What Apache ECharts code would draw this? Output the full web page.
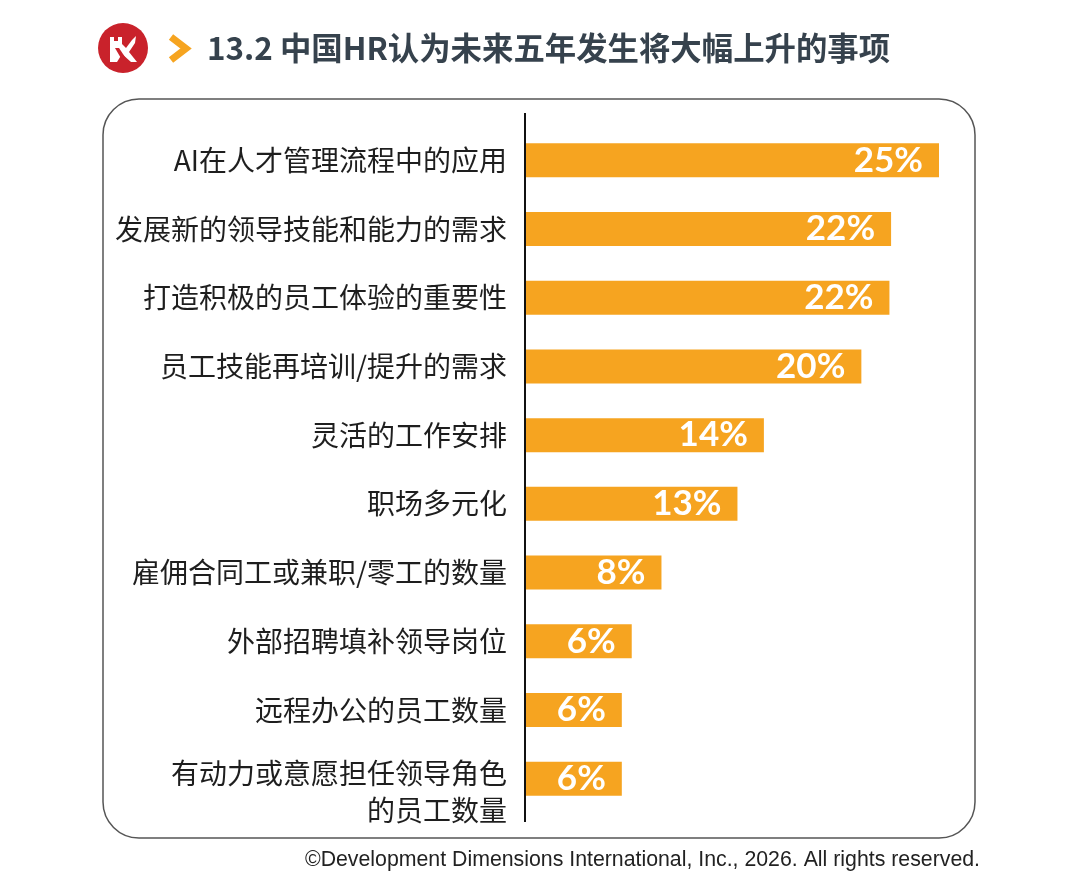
<!DOCTYPE html>
<html>
<head>
<meta charset="utf-8">
<script src="https://cdn.jsdelivr.net/npm/echarts@6/dist/echarts.min.js"></script>
<style>
  html, body { margin: 0; padding: 0; background: #fff; }
  #chart { width: 1080px; height: 895px; }
</style>
</head>
<body>
<div id="chart"></div>
<script>
// 数据
var titleText = '13.2 中国HR认为未来五年发生将大幅上升的事项';
var footText = '©Development Dimensions International, Inc., 2026. All rights reserved.';
var categories = [
  'AI在人才管理流程中的应用',
  '发展新的领导技能和能力的需求',
  '打造积极的员工体验的重要性',
  '员工技能再培训/提升的需求',
  '灵活的工作安排',
  '职场多元化',
  '雇佣合同工或兼职/零工的数量',
  '外部招聘填补领导岗位',
  '远程办公的员工数量',
  '有动力或意愿担任领导角色\n的员工数量'
];
// 条形长度
var values = [25.0, 22.1, 22.0, 20.3, 14.4, 12.8, 8.2, 6.4, 5.8, 5.8];

var chart = echarts.init(document.getElementById('chart'));

chart.setOption({
  backgroundColor: '#fff',
  animation: false,
  grid: { left: 526, top: 126, width: 413, height: 687, containLabel: false },
  xAxis: {
    type: 'value', min: 0, max: 25, show: false
  },
  yAxis: {
    type: 'category',
    inverse: true,
    data: categories,
    axisLine: { show: false },
    axisTick: { show: false },
    axisLabel: {
      interval: 0,
      hideOverlap: false,
      showMinLabel: true,
      showMaxLabel: true,
      margin: 19,
      color: '#1e1e1e',
      fontSize: 28,
      lineHeight: 37,
      fontFamily: 'Noto Sans CJK SC',
      align: 'right',
      // 两行标签:第一行对齐条形中心
      formatter: function (v) {
        var parts = v.split('\n');
        if (parts.length < 2) return v;
        return '{a|' + parts[0] + '}\n{b|' + parts[1] + '}';
      },
      rich: {
        a: { fontSize: 28, color: '#1e1e1e', fontFamily: 'Noto Sans CJK SC', lineHeight: 64, align: 'right' },
        b: { fontSize: 28, color: '#1e1e1e', fontFamily: 'Noto Sans CJK SC', lineHeight: 10, align: 'right' }
      }
    }
  },
  series: [{
    type: 'bar',
    data: values,
    barWidth: 34,
    itemStyle: { color: '#F6A420' },
    label: {
      show: true,
      position: 'insideRight',
      distance: 16,
      color: '#fff',
      fontFamily: 'Lato',
      fontWeight: 'bold',
      fontSize: 35,
      formatter: function (p) { return Math.round(p.value) + '%'; }
    }
  }],
  graphic: [
    { type: 'rect', shape: { x: 103, y: 99, width: 872, height: 739, r: 36 },
      style: { fill: 'none', stroke: '#555', lineWidth: 1.5 }, z: -1 },
    { type: 'line', shape: { x1: 525, y1: 113, x2: 525, y2: 822 },
      style: { stroke: '#111', lineWidth: 2 } },
    // logo
    { type: 'circle', shape: { cx: 123, cy: 48, r: 25 }, style: { fill: '#C9222B' } },
    { type: 'polygon', shape: { points: [[110, 37], [114, 37], [114, 41], [118, 41], [118, 37], [122, 37], [122, 44],
        [126, 48], [132, 40], [136, 36], [135, 43], [129, 52], [137, 62], [131, 62], [122, 54], [117, 62], [110, 62]] },
      style: { fill: '#fff' } },
    { type: 'polygon', shape: { points: [[115, 48], [119, 48], [127, 60], [122, 60]] },
      style: { fill: '#C9222B' } },
    // 箭头
    { type: 'polyline', shape: { points: [[171, 37], [186, 48.5], [171, 60]] },
      style: { stroke: '#F6A420', lineWidth: 7, fill: 'none' } },
    { type: 'text', x: 207, y: 48,
      style: { text: titleText, fill: '#36424d', fontSize: 31.4, fontWeight: 'bold',
        fontFamily: 'Noto Sans CJK SC', verticalAlign: 'middle' } },
    { type: 'text', x: 980, y: 860,
      style: { text: footText, fill: '#222', fontSize: 21.3, fontFamily: 'Liberation Sans',
        align: 'right', verticalAlign: 'middle' } }
  ]
});
</script>
</body>
</html>
